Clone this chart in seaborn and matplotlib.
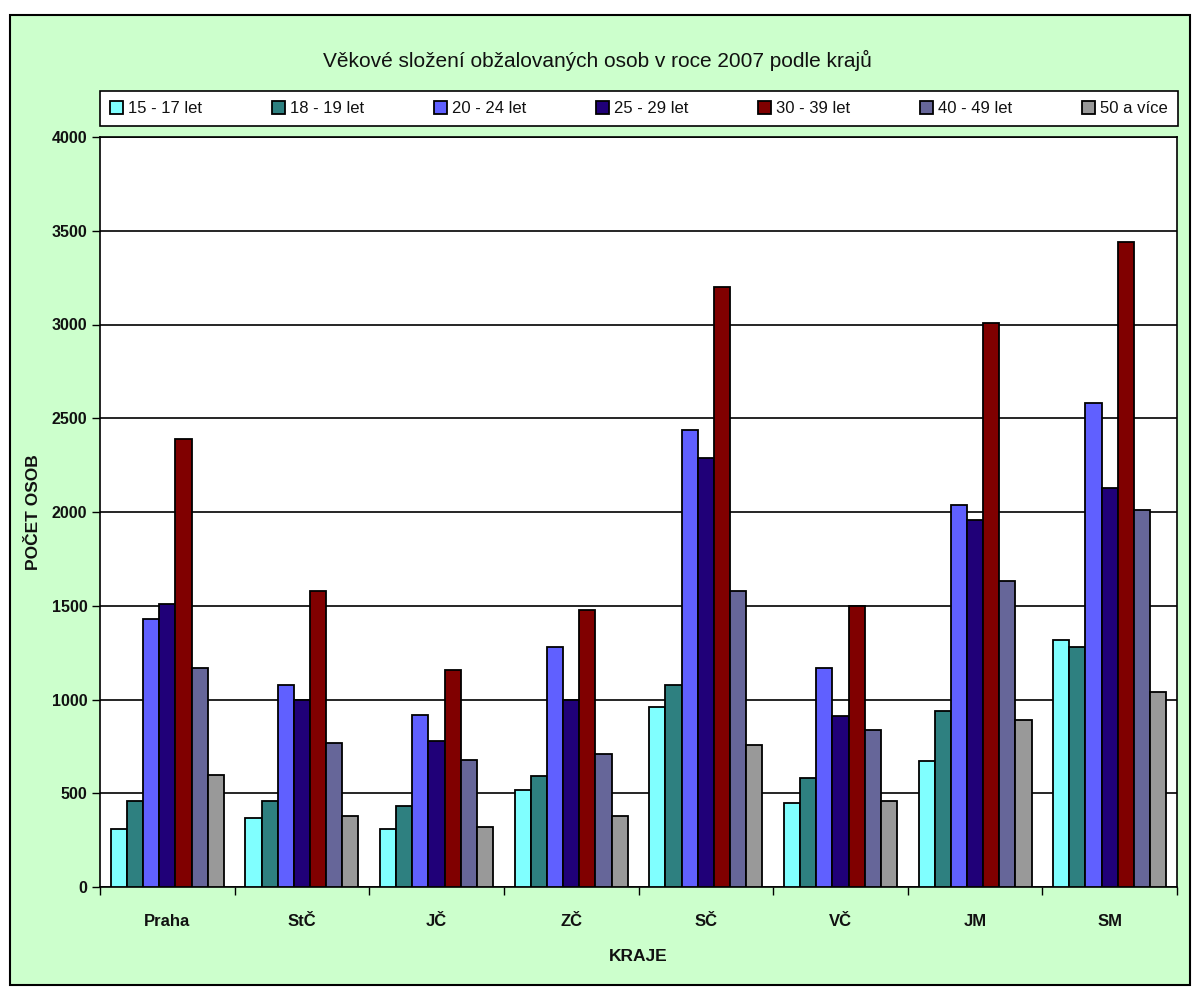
import numpy as np
import pandas as pd
import seaborn as sns
import matplotlib.pyplot as plt
from matplotlib.patches import Rectangle
from matplotlib.ticker import FixedLocator

kraje = ["Praha", "StČ", "JČ", "ZČ", "SČ", "VČ", "JM", "SM"]
skupiny = ["15 - 17 let", "18 - 19 let", "20 - 24 let", "25 - 29 let",
           "30 - 39 let", "40 - 49 let", "50 a více"]

v15_17 = [310, 370, 310, 520, 960, 450, 670, 1320]
v18_19 = [460, 460, 430, 590, 1080, 580, 940, 1280]
v20_24 = [1430, 1080, 920, 1280, 2440, 1170, 2040, 2580]
v25_29 = [1510, 1000, 780, 1000, 2290, 910, 1960, 2130]
v30_39 = [2390, 1580, 1160, 1480, 3200, 1500, 3010, 3440]
v40_49 = [1170, 770, 680, 710, 1580, 840, 1630, 2010]
v50 = [600, 380, 320, 380, 760, 460, 890, 1040]

barvy = ["#80FFFF", "#2E8080", "#6060FF", "#200078", "#800000", "#666699", "#999999"]

serie = [v15_17, v18_19, v20_24, v25_29, v30_39, v40_49, v50]
rows = []
for skup, vals in zip(skupiny, serie):
    for kraj, v in zip(kraje, vals):
        rows.append({"kraj": kraj, "skupina": skup, "pocet": v})
df = pd.DataFrame(rows)

sns.set_style("white")
plt.rcParams["font.family"] = ["Liberation Sans", "DejaVu Sans"]
plt.rcParams["text.color"] = "#111111"

fig = plt.figure(figsize=(11.95, 9.9), dpi=100)
fig.patch.set_facecolor("white")
W, H = 1195, 990

# green frame around the whole chart
fig.patches.append(Rectangle((10 / W, 1 - 985 / H), 1180 / W, 970 / H,
                             transform=fig.transFigure, facecolor="#CCFFCC",
                             edgecolor="black", linewidth=1.5, zorder=-10))

ax = fig.add_axes([100 / W, 1 - 887 / H, 1077 / W, 750 / H])
ax.set_facecolor("white")

sns.barplot(data=df, x="kraj", y="pocet", hue="skupina", order=kraje,
            hue_order=skupiny, palette=barvy, edgecolor="black", linewidth=1.3,
            width=0.84, saturation=1, ax=ax, zorder=3)

ax.set_ylim(0, 4000)
ax.set_xlim(-0.5, 7.5)
ax.set_yticks(np.arange(0, 4001, 500))
ax.yaxis.grid(True, color="black", linewidth=1.2)
ax.set_axisbelow(True)
for s in ["top", "right", "left", "bottom"]:
    ax.spines[s].set_visible(True)
    ax.spines[s].set_color("black")
    ax.spines[s].set_linewidth(1.2)

ax.tick_params(axis="y", left=True, length=6, width=1, color="black",
               labelsize=11.5, pad=3, labelcolor="#111111")
ax.tick_params(axis="x", bottom=False, labelsize=12, pad=16, labelcolor="#111111")
ax.xaxis.set_minor_locator(FixedLocator(np.arange(-0.5, 8, 1)))
ax.tick_params(axis="x", which="minor", bottom=True, length=6, width=1, color="black")
for lab in ax.get_xticklabels() + ax.get_yticklabels():
    lab.set_fontweight("bold")

ax.set_xlabel("KRAJE", fontsize=12.5, fontweight="bold", labelpad=14, color="#111111")
ax.set_ylabel("POČET OSOB", fontsize=12.5, fontweight="bold", labelpad=8,
              color="#111111")

fig.text(0.5, 1 - 60 / H, "Věkové složení obžalovaných osob v roce 2007 podle krajů",
         ha="center", va="center", fontsize=15)

handles, labels = ax.get_legend_handles_labels()
ax.legend(handles, labels, ncol=7, loc="lower left",
          bbox_to_anchor=(100 / W, 1 - 126 / H, 1078 / W, 36 / H),
          bbox_transform=fig.transFigure, mode="expand", frameon=True,
          fancybox=False, edgecolor="black", framealpha=1, fontsize=12,
          handlelength=0.8, handleheight=0.8, handletextpad=0.3,
          borderaxespad=0, borderpad=0.6)
ax.get_legend().get_frame().set_linewidth(1.2)

fig.savefig("out.png", dpi=100, facecolor=fig.get_facecolor())
